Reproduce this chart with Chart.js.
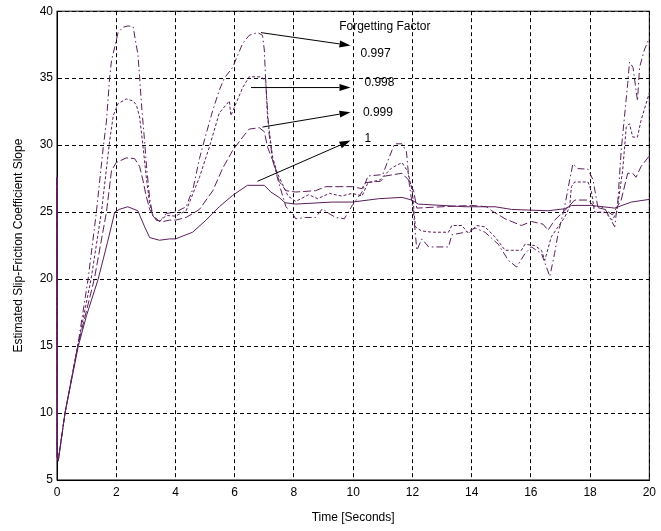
<!DOCTYPE html>
<html>
<head>
<meta charset="utf-8">
<script src="https://cdn.jsdelivr.net/npm/chart.js@4/dist/chart.umd.min.js"></script>
<style>
  body { margin: 0; background: #fff; }
  #wrap { width: 661px; height: 531px; }
</style>
</head>
<body>
<div id="wrap"><canvas id="slopeChart" width="661" height="531"></canvas></div>
<script>
// forgetting factor 1
const time1 = [0, 0.01, 0.04, 0.27, 0.72, 1.0, 1.39, 1.7, 1.95, 2.1, 2.39, 2.73, 2.96, 3.13, 3.46, 3.8, 4.0, 4.58, 5.03, 5.48, 5.93,
    6.43, 7.0, 7.22, 7.5, 7.7, 8.06, 9.29, 9.97, 10.86, 11.65, 11.98, 12.2, 13.78, 14.79, 15.35, 16.58, 17.14, 17.37, 18.04, 18.83, 19.39, 20];
const slope1 = [27.6, 6.7, 6.4, 10, 15, 17.3, 20, 22.7, 25, 25.2, 25.4, 25.1, 23.9, 23.1, 22.9, 23.0, 23.0, 23.5, 24.4, 25.4, 26.25,
    27.0, 27.0, 26.5, 26.1, 25.7, 25.6, 25.75, 25.75, 26.0, 26.1, 25.9, 25.6, 25.4, 25.4, 25.2, 25.1, 25.25, 25.5, 25.5, 25.3, 25.75, 25.95];

// forgetting factor 0.999
const time999 = [0, 0.01, 0.04, 0.27, 0.7, 1.26, 1.67, 1.84, 2.0, 2.34, 2.62, 2.79, 2.9, 3.0, 3.13, 3.35, 3.58, 3.8, 4.0, 4.36, 4.81,
    5.26, 5.6, 5.93, 6.27, 6.49, 6.83, 7.0, 7.11, 7.33, 7.5, 7.73, 8.06, 8.73, 9.07, 9.97, 10.3, 10.4, 10.92, 11.09, 11.65,
    11.87, 12.04, 12.15, 13.0, 14.0, 14.5, 14.68, 15.13, 15.68, 16.02, 16.41, 16.58, 16.8, 17.14, 17.48, 17.93, 18.15, 18.5, 18.75, 19.05,
    19.27, 19.44, 19.55, 19.72, 20];
const slope999 = [27.6, 6.7, 6.4, 10, 15, 20, 25, 28.1, 28.7, 29.05, 29.0, 28.4, 27.4, 26.3, 25.2, 24.4, 24.3, 24.4, 24.4, 24.6, 25.2,
    26.6, 28.3, 29.6, 30.6, 31.2, 31.3, 31.0, 29.85, 28.6, 27.3, 26.6, 26.5, 26.6, 26.9, 26.9, 26.75, 27.2, 27.3, 27.7, 27.9,
    27.4, 26.6, 25.3, 25.4, 25.5, 25.4, 25.1, 24.5, 24.0, 24.3, 24.1, 23.65, 24.4, 25.1, 25.9, 25.9, 25.4, 25.2, 24.8, 25.9,
    27.9, 27.9, 27.6, 28.4, 29.2];

// forgetting factor 0.998
const time998 = [0, 0.01, 0.04, 0.27, 0.7, 1.15, 1.5, 1.78, 1.9, 2.06, 2.34, 2.57, 2.68, 2.79, 2.9, 3.02, 3.13, 3.24, 3.46, 3.69, 4.0,
    4.36, 4.81, 5.15, 5.48, 5.82, 5.87, 6.27, 6.49, 6.89, 7.05, 7.11, 7.28, 7.44, 7.61, 7.8, 8.06, 8.5, 8.8, 9.2, 9.6,
    9.97, 10.3, 10.5, 10.9, 11.3, 11.65, 11.85, 12.0, 12.1, 12.3, 12.66, 13.22, 13.33, 13.67, 13.9, 14.17, 14.45, 14.79, 15.13, 15.35,
    15.68, 15.8, 16.13, 16.36, 16.47, 16.69, 16.92, 17.14, 17.31, 17.37, 17.48, 17.93, 18.04, 18.15, 18.5, 18.75, 18.9, 19.1, 19.22, 19.33,
    19.44, 19.6, 19.72, 20];
const slope998 = [27.6, 6.7, 6.4, 10, 15, 20, 25, 30.35, 32.2, 33.1, 33.45, 33.3, 33.0, 32.1, 30.0, 27.5, 25.6, 24.7, 24.3, 24.75, 24.7,
    25.1, 27.6, 29.9, 32.4, 33.3, 32.2, 34.3, 35.1, 35.1, 34.8, 32.1, 29.1, 27.9, 27.1, 26.2, 25.8, 26.3, 26.0, 26.4, 26.2,
    26.4, 26.2, 27.2, 27.4, 28.3, 28.7, 28.0, 26.5, 23.9, 23.6, 23.5, 23.5, 24.0, 24.0, 23.4, 24.0, 23.9, 23.15, 22.15, 22.15,
    22.15, 22.6, 22.5, 22.15, 21.4, 23.15, 23.9, 24.6, 25.4, 26.9, 27.25, 27.25, 26.6, 25.0, 25.0, 24.4, 25.0, 28.1, 31.35, 31.6,
    30.6, 30.6, 31.85, 33.9];

// forgetting factor 0.997
const time997 = [0, 0.01, 0.04, 0.27, 0.7, 1.05, 1.33, 1.56, 1.67, 1.73, 1.78, 1.84, 2.0, 2.06, 2.23, 2.4, 2.57, 2.65, 2.73, 2.79,
    2.85, 2.95, 3.02, 3.13, 3.24, 3.46, 3.69, 4.0, 4.36, 4.6, 4.81, 5.03, 5.26, 5.48, 5.65, 5.93, 6.27, 6.49, 6.77, 6.94,
    7.0, 7.05, 7.16, 7.28, 7.5, 7.73, 7.95, 8.06, 8.4, 8.73, 8.96, 9.18, 9.41, 9.7, 9.97, 10.3, 10.5, 11.0, 11.2, 11.4,
    11.65, 11.8, 11.9, 12.04, 12.15, 12.32, 12.55, 13.22, 13.33, 13.78, 14.12, 14.45, 14.9, 15.24, 15.52, 15.8, 16.02, 16.36, 16.64, 16.8,
    16.92, 17.14, 17.31, 17.42, 17.59, 17.93, 18.1, 18.26, 18.49, 18.71, 18.83, 18.94, 19.05, 19.27, 19.33, 19.45, 19.6, 19.67, 19.83, 20];
const slope997 = [27.6, 6.7, 6.4, 10, 15, 20, 25, 29.8, 31.8, 33.6, 35.1, 36.3, 37.8, 38.4, 38.8, 38.9, 38.85, 37.8, 36.8, 35.1,
    33.1, 30.5, 28.5, 26.0, 24.7, 24.3, 24.9, 25.0, 25.4, 26.8, 29.0, 30.8, 32.6, 34.1, 35.0, 35.8, 37.6, 38.2, 38.4, 38.2,
    37.1, 34.6, 30.85, 28.9, 27.1, 25.4, 24.9, 24.5, 24.6, 24.6, 25.25, 24.9, 24.6, 24.5, 25.5, 26.5, 27.7, 27.8, 29.0, 30.1,
    30.1, 29.5, 27.0, 24.9, 22.15, 23.0, 22.4, 22.4, 23.3, 23.5, 23.8, 23.5, 22.6, 21.4, 20.9, 21.9, 22.4, 21.9, 20.2, 21.9,
    23.4, 25.4, 27.4, 28.6, 28.25, 28.2, 27.4, 25.4, 25.3, 24.4, 23.9, 25.9, 29.6, 34.6, 36.2, 35.8, 33.3, 35.8, 37.1, 38.0];

const xTicks = [0, 2, 4, 6, 8, 10, 12, 14, 16, 18, 20];
const yTicks = [5, 10, 15, 20, 25, 30, 35, 40];

// annotation: labels and arrows (data coords)
const factorLabels = ['0.997', '0.998', '0.999', '1'];
const labelX = [10.25, 10.38, 10.33, 10.38];
const labelY = [36.8, 34.7, 32.4, 30.5];
const arrowFromX = [6.89, 6.55, 6.94, 6.77];
const arrowFromY = [38.4, 34.3, 31.35, 27.3];
const arrowToX = [9.91, 9.91, 9.91, 9.91];
const arrowToY = [37.44, 34.3, 32.45, 30.34];
const titleText = 'Forgetting Factor';
const titlePos = [11.07, 38.85];

const purple = '#5a1e5a';
const font = 'Liberation Sans, Arial, sans-serif';

function pts(t, v) {
    return t.map((x, i) => ({ x: x, y: v[i] }));
}

const annotate = {
    id: 'annotate',
    beforeDatasetsDraw(chart) {
        // solid box round the plot, under the curves
        const ctx = chart.ctx;
        const a = chart.chartArea;
        ctx.save();
        ctx.strokeStyle = '#000';
        ctx.lineWidth = 1;
        ctx.setLineDash([]);
        ctx.strokeRect(a.left, a.top, a.right - a.left, a.bottom - a.top);
        ctx.restore();
    },
    afterDatasetsDraw(chart) {
        const ctx = chart.ctx;
        const xs = chart.scales.x, ys = chart.scales.y;
        ctx.save();
        ctx.strokeStyle = '#000';
        ctx.lineWidth = 1;
        ctx.setLineDash([]);
        ctx.fillStyle = '#000';
        ctx.font = '12px ' + font;
        ctx.textBaseline = 'middle';
        ctx.textAlign = 'center';
        ctx.fillText(titleText, xs.getPixelForValue(titlePos[0]), ys.getPixelForValue(titlePos[1]));
        ctx.textAlign = 'left';
        factorLabels.forEach((lab, i) => {
            ctx.fillText(lab, xs.getPixelForValue(labelX[i]), ys.getPixelForValue(labelY[i]));
        });
        for (let i = 0; i < arrowFromX.length; i++) {
            const x1 = xs.getPixelForValue(arrowFromX[i]), y1 = ys.getPixelForValue(arrowFromY[i]);
            const x2 = xs.getPixelForValue(arrowToX[i]), y2 = ys.getPixelForValue(arrowToY[i]);
            const ang = Math.atan2(y2 - y1, x2 - x1);
            const len = 11, half = 3.5;
            const bx = x2 - len * Math.cos(ang), by = y2 - len * Math.sin(ang);
            ctx.beginPath();
            ctx.moveTo(x1, y1);
            ctx.lineTo(bx, by);
            ctx.stroke();
            ctx.beginPath();
            ctx.moveTo(x2, y2);
            ctx.lineTo(bx + half * Math.sin(ang), by - half * Math.cos(ang));
            ctx.lineTo(bx - half * Math.sin(ang), by + half * Math.cos(ang));
            ctx.closePath();
            ctx.fill();
        }
        ctx.restore();
    }
};

const lineSet = (label, t, v, dash) => ({
    label: label,
    data: pts(t, v),
    showLine: true,
    borderColor: purple,
    borderWidth: 1,
    borderDash: dash,
    pointRadius: 0,
    tension: 0,
    fill: false,
    clip: 2
});

new Chart(document.getElementById('slopeChart'), {
    type: 'scatter',
    data: {
        datasets: [
            lineSet('1', time1, slope1, []),
            lineSet('0.999', time999, slope999, [8, 3]),
            lineSet('0.998', time998, slope998, [3, 2]),
            lineSet('0.997', time997, slope997, [7, 3, 1.5, 3])
        ]
    },
    options: {
        responsive: false,
        animation: false,
        layout: { padding: { left: 0, right: 9, top: 11, bottom: 0 } },
        plugins: { legend: { display: false }, tooltip: { enabled: false } },
        scales: {
            x: {
                type: 'linear',
                min: 0, max: 20,
                afterBuildTicks: s => { s.ticks = xTicks.map(v => ({ value: v })); },
                afterFit: s => { s.height = 51; },
                grid: { color: '#000', lineWidth: 1, drawTicks: false },
                border: { display: true, color: '#000', dash: [4, 3] },
                ticks: { color: '#000', padding: 5, font: { family: font, size: 12 }, maxRotation: 0 },
                title: { display: true, text: 'Time [Seconds]', color: '#000', font: { family: font, size: 12 }, padding: { top: 0, bottom: 6 } }
            },
            y: {
                type: 'linear',
                min: 5, max: 40,
                afterBuildTicks: s => { s.ticks = yTicks.map(v => ({ value: v })); },
                afterFit: s => { s.width = 57; },
                grid: { color: '#000', lineWidth: 1, drawTicks: false },
                border: { display: true, color: '#000', dash: [4, 3] },
                ticks: { color: '#000', padding: 4, font: { family: font, size: 12 } },
                title: { display: true, text: 'Estimated Slip-Friction Coefficient Slope', color: '#000', font: { family: font, size: 12 }, padding: { top: 11, bottom: 0 } }
            }
        }
    },
    plugins: [annotate]
});
</script>
</body>
</html>
